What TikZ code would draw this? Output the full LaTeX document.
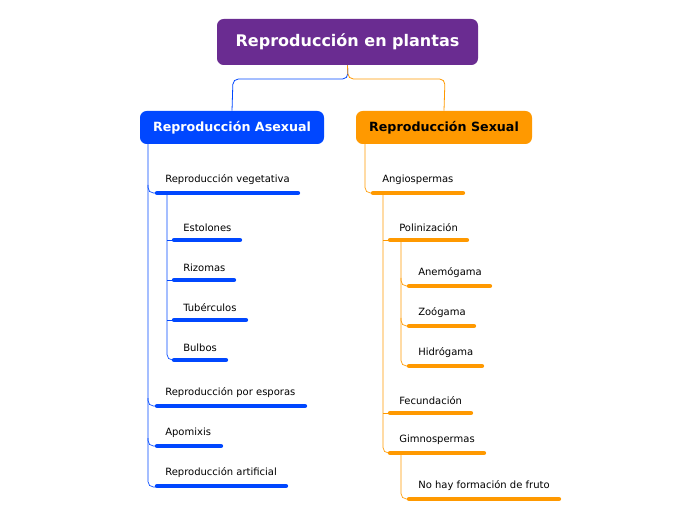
\documentclass[tikz,border=0pt]{standalone}
\usepackage{fontspec}
\setmainfont{DejaVu Sans}
\definecolor{rootc}{HTML}{6A2C91}
\definecolor{bluec}{HTML}{0047FF}
\definecolor{orangec}{HTML}{FF9900}
\tikzset{
  box/.style={rounded corners=5pt, text=white, font=\bfseries, inner sep=0pt},
  item/.style={anchor=south west, font=\fontsize{7.5}{9}\selectfont, inner sep=0pt},
  bar/.style={line width=3.2pt, line cap=round},
  link/.style={line width=0.6pt, rounded corners=4pt}
}
\begin{document}
\begin{tikzpicture}[x=0.75pt, y=-0.75pt]
    \useasboundingbox (0,0) rectangle (696,520);
    % main boxes
    \node[box, fill=rootc, minimum width=261*0.75pt, minimum height=46*0.75pt, font=\bfseries\fontsize{12}{14}\selectfont] (root) at (347.5,42) {Reproducción en plantas};
    \node[box, fill=bluec, minimum width=184*0.75pt, minimum height=33*0.75pt, font=\bfseries\fontsize{9.5}{11}\selectfont] (asex) at (232,127.5) {Reproducción Asexual};
    \node[box, fill=orangec, text=black, minimum width=176*0.75pt, minimum height=33*0.75pt, font=\bfseries\fontsize{9.5}{11}\selectfont] (sex) at (444,127.5) {Reproducción Sexual};

    \draw[link, bluec] (root.south) -- (348,79) -- (233,79) -- (asex.north);
    \draw[link, orangec] (root.south) -- (348,79) -- (445,79) -- (sex.north);

    % asexual side
    \node[item] (veg) at (165,185) {Reproducción vegetativa};
    \node[item] (est) at (183,232) {Estolones};
    \node[item] (riz) at (183,272) {Rizomas};
    \node[item] (tub) at (183,312) {Tubérculos};
    \node[item] (bul) at (183,352) {Bulbos};
    \node[item] (esp) at (165,398) {Reproducción por esporas};
    \node[item] (apo) at (165,438) {Apomixis};
    \node[item] (art) at (165,478) {Reproducción artificial};
    \begin{scope}[bluec]
    \draw[bar] (157,193) -- (298,193);
    \draw[bar] (174,240) -- (240,240);
    \draw[bar] (174,280) -- (234,280);
    \draw[bar] (174,320) -- (246,320);
    \draw[bar] (174,360) -- (226,360);
    \draw[bar] (157,406) -- (305,406);
    \draw[bar] (157,446) -- (221,446);
    \draw[bar] (157,486) -- (286,486);
    \draw[link, line width=0.5pt] (148,144) -- (148,487) -- (157,487);
    \foreach \yy in {193,406,446} \draw[link, line width=0.5pt] (148,\yy-8) -- (148,\yy) -- (157,\yy);
    \draw[link, line width=0.5pt] (167,193) -- (167,360) -- (174,360);
    \foreach \yy in {240,280,320} \draw[line width=0.5pt] (167,\yy) -- (174,\yy);
    \end{scope}

    % sexual side
    \node[item] (ang) at (382,185) {Angiospermas};
    \node[item] (pol) at (399,232) {Polinización};
    \node[item] (ane) at (418,278) {Anemógama};
    \node[item] (zoo) at (418,318) {Zoógama};
    \node[item] (hid) at (418,358) {Hidrógama};
    \node[item] (fec) at (399,405) {Fecundación};
    \node[item] (gim) at (399,445) {Gimnospermas};
    \node[item] (fru) at (418,491) {No hay formación de fruto};
    \begin{scope}[orangec]
    \draw[bar] (373,193) -- (463,193);
    \draw[bar] (390,240) -- (467,240);
    \draw[bar] (409,286) -- (490,286);
    \draw[bar] (409,326) -- (474,326);
    \draw[bar] (409,366) -- (482,366);
    \draw[bar] (390,413) -- (471,413);
    \draw[bar] (390,453) -- (484,453);
    \draw[bar] (409,499) -- (559,499);
    \draw[link, line width=0.5pt] (365,144) -- (365,193) -- (373,193);
    \draw[link, line width=0.5pt] (383,193) -- (383,453) -- (390,453);
    \foreach \yy in {240,413} \draw[line width=0.5pt] (383,\yy) -- (390,\yy);
    \draw[link, line width=0.5pt] (401,240) -- (401,366) -- (409,366);
    \foreach \yy in {286,326} \draw[link, line width=0.5pt] (401,\yy-8) -- (401,\yy) -- (409,\yy);
    \draw[link, line width=0.5pt] (401,453) -- (401,499) -- (409,499);
    \end{scope}
\end{tikzpicture}
\end{document}
